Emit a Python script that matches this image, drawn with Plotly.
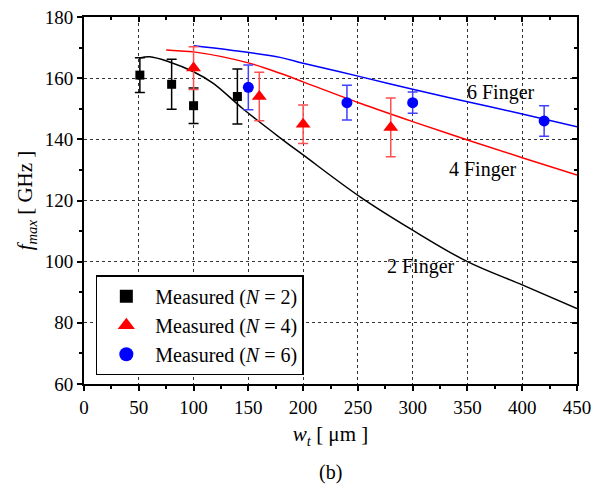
import plotly.graph_objects as go

# Measured data
n2_x = [51, 80, 100, 140]
n2_y = [161, 158, 151, 154]
n2_err = [5.7, 8.2, 5.8, 9.0]

n4_x = [100, 160, 200, 280]
n4_y = [163.3, 154, 144.9, 143.9]
n4_err = [7.0, 7.9, 6.3, 9.6]

n6_x = [150, 240, 300, 420]
n6_y = [157, 152, 152, 146]
n6_err = [7.3, 5.7, 3.5, 5.0]

# Model curves
c2_x = [51, 60, 78, 100, 118, 145, 179, 200, 252, 300, 350, 400, 450]
c2_y = [166.6, 167, 165.3, 162.1, 158.3, 150, 140.5, 134.9, 121.2, 110.3, 100, 92.4, 84.7]

c4_x = [75, 88, 100, 150, 179, 200, 252, 300, 350, 400, 450]
c4_y = [169.2, 168.9, 168.6, 165, 161.6, 158.8, 151.8, 145.8, 139.8, 134, 128.3]

c6_x = [100, 133, 179, 200, 252, 300, 350, 400, 450]
c6_y = [170.6, 169.2, 166.8, 164.9, 160.5, 156.4, 152.3, 148.3, 144.1]

labels = ["2 Finger", "4 Finger", "6 Finger"]
label_x = [308, 364, 381]
label_y = [98.4, 130, 155.4]

x_ticks = list(range(0, 451, 50))
y_ticks = list(range(60, 181, 20))

FONT = "Times New Roman, Liberation Serif, serif"

fig = go.Figure()

fig.add_trace(go.Scatter(x=c2_x, y=c2_y, mode="lines", line=dict(color="black", width=1.5),
                         showlegend=False, line_shape="spline"))
fig.add_trace(go.Scatter(x=c4_x, y=c4_y, mode="lines", line=dict(color="red", width=1.5),
                         showlegend=False, line_shape="spline"))
fig.add_trace(go.Scatter(x=c6_x, y=c6_y, mode="lines", line=dict(color="blue", width=1.5),
                         showlegend=False, line_shape="spline"))

fig.add_trace(go.Scatter(x=n2_x, y=n2_y, mode="markers",
                         marker=dict(symbol="square", size=9, color="black"),
                         error_y=dict(type="data", array=n2_err, color="black", thickness=1.5, width=5),
                         showlegend=False))
fig.add_trace(go.Scatter(x=n4_x, y=n4_y, mode="markers",
                         marker=dict(symbol="triangle-up", size=13, color="red"),
                         error_y=dict(type="data", array=n4_err, color="#ff5050", thickness=1.5, width=5),
                         showlegend=False))
fig.add_trace(go.Scatter(x=n6_x, y=n6_y, mode="markers",
                         marker=dict(symbol="circle", size=11, color="blue"),
                         error_y=dict(type="data", array=n6_err, color="#4040ff", thickness=1.5, width=5),
                         showlegend=False))

# legend entries
fig.add_trace(go.Scatter(x=[None], y=[None], mode="markers", name="Measured (<i>N</i> = 2)",
                         marker=dict(symbol="square", size=13, color="black")))
fig.add_trace(go.Scatter(x=[None], y=[None], mode="markers", name="Measured (<i>N</i> = 4)",
                         marker=dict(symbol="triangle-up", size=15, color="red")))
fig.add_trace(go.Scatter(x=[None], y=[None], mode="markers", name="Measured (<i>N</i> = 6)",
                         marker=dict(symbol="circle", size=14, color="blue")))

# invisible trace to activate the mirrored axes
fig.add_trace(go.Scatter(x=[None], y=[None], xaxis="x2", yaxis="y2", showlegend=False))

for t, xx, yy in zip(labels, label_x, label_y):
    fig.add_annotation(x=xx, y=yy, text=t, showarrow=False,
                       font=dict(family=FONT, size=20, color="black"))

axis_common = dict(showline=True, linecolor="black", linewidth=2, automargin=False,
                   tickfont=dict(family=FONT, size=19, color="black"), ticklabeloverflow="allow",
                   ticks="outside", ticklen=5, tickwidth=1.5, tickcolor="black",
                   showgrid=True, gridcolor="#333333", griddash="dot", gridwidth=1,
                   zeroline=False)

fig.update_layout(
    width=594, height=491,
    margin=dict(l=84, r=17, t=17, b=107),
    plot_bgcolor="white", paper_bgcolor="white",
    font=dict(family=FONT, size=19, color="black"),
    xaxis=dict(range=[0, 450], tickvals=x_ticks, **axis_common,
               minor=dict(dtick=25, ticks="outside", ticklen=3, tickwidth=1.5, tickcolor="black", showgrid=False),
               title=dict(text="<i>w</i><sub><i>t</i></sub> [ μm ]", font=dict(family=FONT, size=21), standoff=10)),
    yaxis=dict(range=[60, 180], tickvals=y_ticks, **axis_common,
               minor=dict(dtick=10, ticks="outside", ticklen=3, tickwidth=1.5, tickcolor="black", showgrid=False),
               title=dict(text="<i>f</i><sub><i>max</i></sub> [ GHz ]", font=dict(family=FONT, size=21), standoff=6)),
    xaxis2=dict(overlaying="x", side="top", matches="x", range=[0, 450], tickvals=x_ticks, automargin=False,
                showline=True, linecolor="black", linewidth=2, showticklabels=False,
                ticks="inside", ticklen=5, tickwidth=1.5, tickcolor="black", showgrid=False, zeroline=False,
                minor=dict(dtick=25, ticks="inside", ticklen=3, tickwidth=1.5, tickcolor="black")),
    yaxis2=dict(overlaying="y", side="right", matches="y", range=[60, 180], tickvals=y_ticks, automargin=False,
                showline=True, linecolor="black", linewidth=2, showticklabels=False,
                ticks="inside", ticklen=5, tickwidth=1.5, tickcolor="black", showgrid=False, zeroline=False,
                minor=dict(dtick=10, ticks="inside", ticklen=3, tickwidth=1.5, tickcolor="black")),
    legend=dict(x=0.024, y=0.16, xanchor="left", yanchor="middle",
                bordercolor="black", borderwidth=1.5, bgcolor="white",
                font=dict(family=FONT, size=20, color="black"),
                itemsizing="trace", itemwidth=48, tracegroupgap=0),
)

fig.add_annotation(x=0.5, y=-0.24, xref="paper", yref="paper", text="(b)", showarrow=False,
                   font=dict(family=FONT, size=20, color="black"), yanchor="middle")

fig.write_html("out.html", post_script="document.body.style.margin='0';",
               config={"displayModeBar": False})
